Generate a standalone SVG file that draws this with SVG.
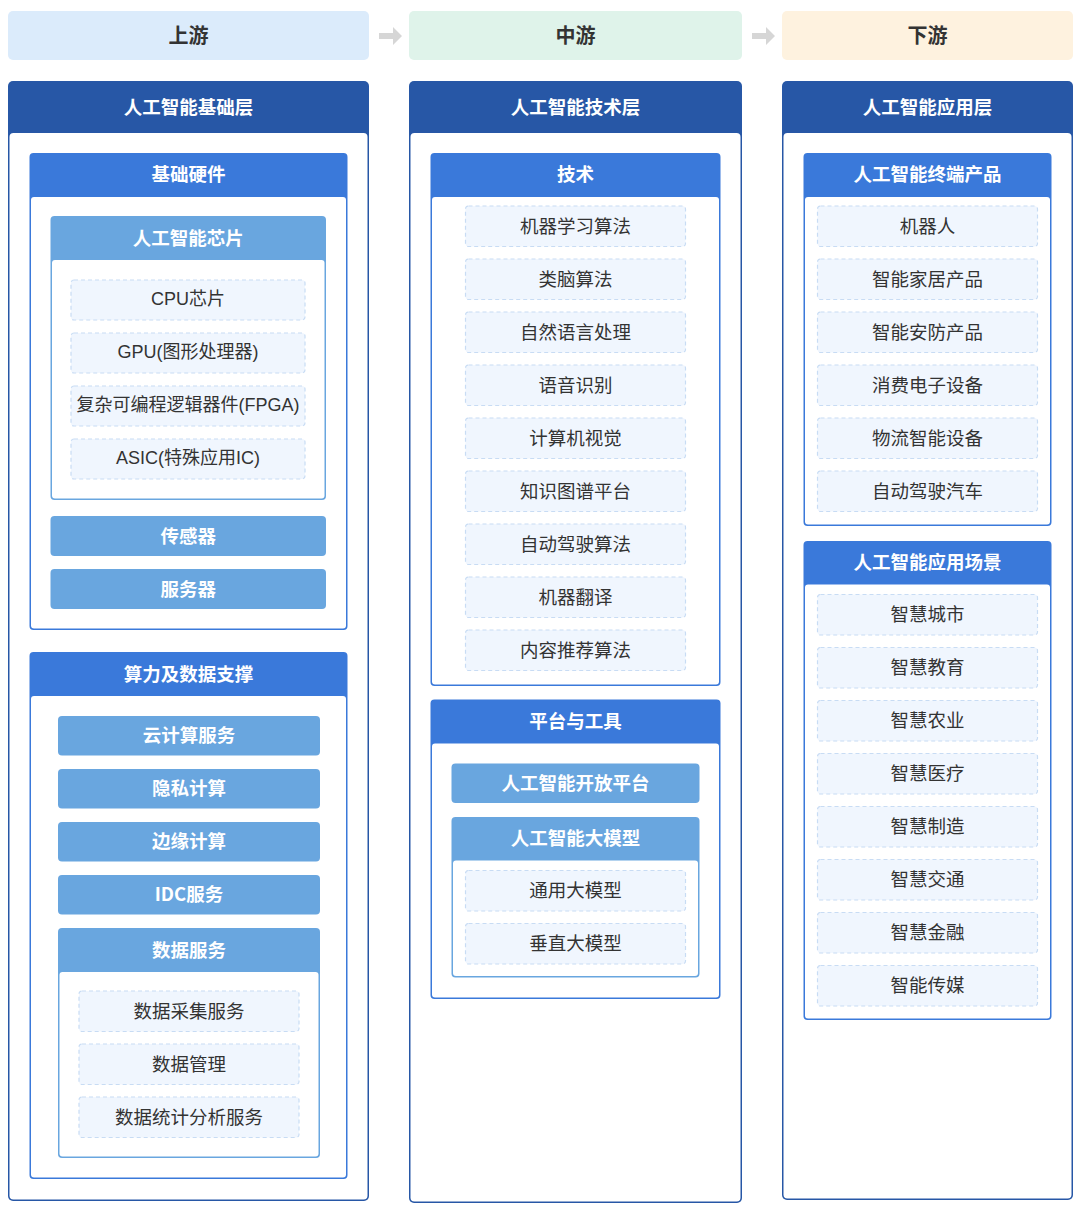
<svg xmlns="http://www.w3.org/2000/svg" width="1085" height="1207" viewBox="0 0 1085 1207">
<style>
text{font-family:"Noto Sans CJK SC","Noto Sans",sans-serif;text-anchor:middle;dominant-baseline:central;transform:translateY(-1.5px)}
.stage{font-size:20px;font-weight:bold;fill:#333}
.hd{font-size:18.5px;font-weight:bold;fill:#fff}
.it{font-size:18.5px;fill:#333}
.it2{font-family:"Liberation Sans","Noto Sans CJK SC",sans-serif;font-size:18px}
.item{fill:#f0f6fe;stroke:#c8dcf4;stroke-width:1.2;stroke-dasharray:4 3}
.body{fill:#fff}
.dark{fill:#2757a6}
.mid{fill:#3a79da}
.lite{fill:#69a6df}
.arrow{fill:#d6d6d6}
</style>
<rect width="1085" height="1207" fill="#fff"/>
<g id="stages">
<g id="stage-up"><rect x="8" y="11" width="361" height="49" rx="5" fill="#dbebfb"/><text class="stage" x="188.5" y="36">上游</text></g>
<g id="stage-mid"><rect x="409" y="11" width="333" height="49" rx="5" fill="#dff3ea"/><text class="stage" x="575.5" y="36">中游</text></g>
<g id="stage-down"><rect x="782" y="11" width="291" height="49" rx="5" fill="#fef2df"/><text class="stage" x="927.5" y="36">下游</text></g>
</g>
<g id="connectors">
<polygon class="arrow" points="379,33 393,33 393,27 402,36 393,45 393,39 379,39"/>
<polygon class="arrow" points="752,33 766,33 766,27 775,36 766,45 766,39 752,39"/>
</g>
<g id="col-up">
<rect class="dark" x="8" y="81" width="361" height="1120" rx="5"/>
<rect class="body" x="9.5" y="133" width="358" height="1066.5" rx="4"/>
<text class="hd" x="188.5" y="107">人工智能基础层</text>
<g id="hw">
<rect class="mid" x="29.5" y="153" width="318" height="477" rx="4"/>
<rect class="body" x="31" y="197" width="315" height="431.5" rx="3"/>
<text class="hd" x="188.5" y="174">基础硬件</text>
<g id="chip">
<rect class="lite" x="50.5" y="216" width="275.5" height="284" rx="4"/>
<rect class="body" x="52" y="260" width="272.5" height="238.5" rx="3"/>
<text class="hd" x="188.2" y="238">人工智能芯片</text>
<g id="cpu"><rect class="item" x="71" y="280" width="234" height="40" rx="3"/><text class="it it2" x="188" y="300">CPU芯片</text></g>
<g id="gpu"><rect class="item" x="71" y="333" width="234" height="40" rx="3"/><text class="it it2" x="188" y="353">GPU(图形处理器)</text></g>
<g id="fpga"><rect class="item" x="71" y="386" width="234" height="40" rx="3"/><text class="it it2" x="188" y="406">复杂可编程逻辑器件(FPGA)</text></g>
<g id="asic"><rect class="item" x="71" y="439" width="234" height="40" rx="3"/><text class="it it2" x="188" y="459">ASIC(特殊应用IC)</text></g>
</g>
<g id="sensor"><rect class="lite" x="50.5" y="516" width="275.5" height="40" rx="4"/><text class="hd" x="188.2" y="536">传感器</text></g>
<g id="server"><rect class="lite" x="50.5" y="569" width="275.5" height="40" rx="4"/><text class="hd" x="188.2" y="589">服务器</text></g>
</g>
<g id="compute">
<rect class="mid" x="29.5" y="652" width="318" height="527" rx="4"/>
<rect class="body" x="31" y="696" width="315" height="481.5" rx="3"/>
<text class="hd" x="188.5" y="674">算力及数据支撑</text>
<g id="cloud"><rect class="lite" x="58" y="716" width="262" height="39.5" rx="4"/><text class="hd" x="189" y="735.5">云计算服务</text></g>
<g id="privacy"><rect class="lite" x="58" y="769" width="262" height="39.5" rx="4"/><text class="hd" x="189" y="788.5">隐私计算</text></g>
<g id="edge"><rect class="lite" x="58" y="822" width="262" height="39.5" rx="4"/><text class="hd" x="189" y="841.5">边缘计算</text></g>
<g id="idc"><rect class="lite" x="58" y="875" width="262" height="39.5" rx="4"/><text class="hd" x="189" y="894.5">IDC服务</text></g>
<g id="data">
<rect class="lite" x="58" y="928" width="262" height="230" rx="4"/>
<rect class="body" x="59.5" y="972" width="259" height="184.5" rx="3"/>
<text class="hd" x="189" y="950">数据服务</text>
<g id="d1"><rect class="item" x="79" y="991" width="220" height="40.5" rx="3"/><text class="it" x="189" y="1011">数据采集服务</text></g>
<g id="d2"><rect class="item" x="79" y="1044" width="220" height="40.5" rx="3"/><text class="it" x="189" y="1064">数据管理</text></g>
<g id="d3"><rect class="item" x="79" y="1097" width="220" height="40.5" rx="3"/><text class="it" x="189" y="1117">数据统计分析服务</text></g>
</g>
</g>
</g>
<g id="col-mid">
<rect class="dark" x="409" y="81" width="333" height="1122" rx="5"/>
<rect class="body" x="410.5" y="133" width="330" height="1068.5" rx="4"/>
<text class="hd" x="575.5" y="107">人工智能技术层</text>
<g id="tech">
<rect class="mid" x="430.5" y="153" width="290" height="533" rx="4"/>
<rect class="body" x="432" y="197" width="287" height="487.5" rx="3"/>
<text class="hd" x="575.5" y="174">技术</text>
<g id="t1"><rect class="item" x="465.5" y="206" width="220" height="40.5" rx="3"/><text class="it" x="575.5" y="226">机器学习算法</text></g>
<g id="t2"><rect class="item" x="465.5" y="259" width="220" height="40.5" rx="3"/><text class="it" x="575.5" y="279">类脑算法</text></g>
<g id="t3"><rect class="item" x="465.5" y="312" width="220" height="40.5" rx="3"/><text class="it" x="575.5" y="332">自然语言处理</text></g>
<g id="t4"><rect class="item" x="465.5" y="365" width="220" height="40.5" rx="3"/><text class="it" x="575.5" y="385">语音识别</text></g>
<g id="t5"><rect class="item" x="465.5" y="418" width="220" height="40.5" rx="3"/><text class="it" x="575.5" y="438">计算机视觉</text></g>
<g id="t6"><rect class="item" x="465.5" y="471" width="220" height="40.5" rx="3"/><text class="it" x="575.5" y="491">知识图谱平台</text></g>
<g id="t7"><rect class="item" x="465.5" y="524" width="220" height="40.5" rx="3"/><text class="it" x="575.5" y="544">自动驾驶算法</text></g>
<g id="t8"><rect class="item" x="465.5" y="577" width="220" height="40.5" rx="3"/><text class="it" x="575.5" y="597">机器翻译</text></g>
<g id="t9"><rect class="item" x="465.5" y="630" width="220" height="40.5" rx="3"/><text class="it" x="575.5" y="650">内容推荐算法</text></g>
</g>
<g id="platform">
<rect class="mid" x="430.5" y="699.5" width="290" height="299.5" rx="4"/>
<rect class="body" x="432" y="743.5" width="287" height="254" rx="3"/>
<text class="hd" x="575.5" y="721">平台与工具</text>
<g id="open"><rect class="lite" x="451.5" y="763.5" width="248" height="39.5" rx="4"/><text class="hd" x="575.5" y="783">人工智能开放平台</text></g>
<g id="llm">
<rect class="lite" x="451.5" y="817" width="248" height="160.5" rx="4"/>
<rect class="body" x="453" y="860.5" width="245" height="115.5" rx="3"/>
<text class="hd" x="575.5" y="838">人工智能大模型</text>
<g id="m1"><rect class="item" x="465.5" y="870.5" width="220" height="40.5" rx="3"/><text class="it" x="575.5" y="890.5">通用大模型</text></g>
<g id="m2"><rect class="item" x="465.5" y="923.5" width="220" height="40.5" rx="3"/><text class="it" x="575.5" y="943.5">垂直大模型</text></g>
</g>
</g>
</g>
<g id="col-down">
<rect class="dark" x="782" y="81" width="291" height="1119" rx="5"/>
<rect class="body" x="783.5" y="133" width="288" height="1065.5" rx="4"/>
<text class="hd" x="927.5" y="107">人工智能应用层</text>
<g id="terminal">
<rect class="mid" x="803.5" y="153" width="248" height="373" rx="4"/>
<rect class="body" x="805" y="197" width="245" height="327.5" rx="3"/>
<text class="hd" x="927.5" y="174">人工智能终端产品</text>
<g id="p1"><rect class="item" x="817.5" y="206" width="220" height="40.5" rx="3"/><text class="it" x="927.5" y="226">机器人</text></g>
<g id="p2"><rect class="item" x="817.5" y="259" width="220" height="40.5" rx="3"/><text class="it" x="927.5" y="279">智能家居产品</text></g>
<g id="p3"><rect class="item" x="817.5" y="312" width="220" height="40.5" rx="3"/><text class="it" x="927.5" y="332">智能安防产品</text></g>
<g id="p4"><rect class="item" x="817.5" y="365" width="220" height="40.5" rx="3"/><text class="it" x="927.5" y="385">消费电子设备</text></g>
<g id="p5"><rect class="item" x="817.5" y="418" width="220" height="40.5" rx="3"/><text class="it" x="927.5" y="438">物流智能设备</text></g>
<g id="p6"><rect class="item" x="817.5" y="471" width="220" height="40.5" rx="3"/><text class="it" x="927.5" y="491">自动驾驶汽车</text></g>
</g>
<g id="scene">
<rect class="mid" x="803.5" y="541" width="248" height="479" rx="4"/>
<rect class="body" x="805" y="584.5" width="245" height="434" rx="3"/>
<text class="hd" x="927.5" y="562">人工智能应用场景</text>
<g id="s1"><rect class="item" x="817.5" y="594.5" width="220" height="40.5" rx="3"/><text class="it" x="927.5" y="614.5">智慧城市</text></g>
<g id="s2"><rect class="item" x="817.5" y="647.5" width="220" height="40.5" rx="3"/><text class="it" x="927.5" y="667.5">智慧教育</text></g>
<g id="s3"><rect class="item" x="817.5" y="700.5" width="220" height="40.5" rx="3"/><text class="it" x="927.5" y="720.5">智慧农业</text></g>
<g id="s4"><rect class="item" x="817.5" y="753.5" width="220" height="40.5" rx="3"/><text class="it" x="927.5" y="773.5">智慧医疗</text></g>
<g id="s5"><rect class="item" x="817.5" y="806.5" width="220" height="40.5" rx="3"/><text class="it" x="927.5" y="826.5">智慧制造</text></g>
<g id="s6"><rect class="item" x="817.5" y="859.5" width="220" height="40.5" rx="3"/><text class="it" x="927.5" y="879.5">智慧交通</text></g>
<g id="s7"><rect class="item" x="817.5" y="912.5" width="220" height="40.5" rx="3"/><text class="it" x="927.5" y="932.5">智慧金融</text></g>
<g id="s8"><rect class="item" x="817.5" y="965.5" width="220" height="40.5" rx="3"/><text class="it" x="927.5" y="985.5">智能传媒</text></g>
</g>
</g>
</svg>
